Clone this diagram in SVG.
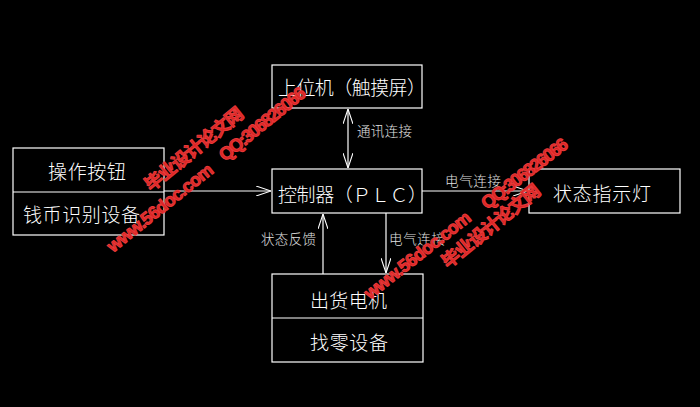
<svg xmlns="http://www.w3.org/2000/svg" width="700" height="407" viewBox="0 0 700 407">
<defs>
<style>
.box{fill:none;stroke:#ffffff;stroke-width:1.2}
.t{fill:#ffffff;font-family:"Noto Sans CJK SC","Noto Sans CJK JP",sans-serif;font-size:19px;font-weight:300}
.s{fill:#e0e0e0;font-family:"Noto Sans CJK SC","Noto Sans CJK JP",sans-serif;font-size:13.5px;font-weight:300}
.c{fill:none;stroke:#ffffff;stroke-width:1.2}
.wm{fill:#dd2424;stroke:#e63a3a;stroke-width:1;stroke-linejoin:round;font-family:"Liberation Sans","Noto Sans CJK SC",sans-serif;font-weight:bold;font-size:18px}
</style>
<marker id="arr" viewBox="0 0 15 10" refX="15" refY="5" markerWidth="15" markerHeight="10" markerUnits="userSpaceOnUse" orient="auto-start-reverse">
<path d="M0,0 L15,5 L0,10" fill="none" stroke="#ffffff" stroke-width="1.1"/>
</marker>
</defs>
<rect width="700" height="407" fill="#000000"/>
<g id="connectors">
<line class="c" x1="348" y1="109" x2="348" y2="168" marker-start="url(#arr)" marker-end="url(#arr)"/>
<line class="c" x1="164" y1="191" x2="271" y2="191" marker-end="url(#arr)"/>
<line class="c" x1="422" y1="191" x2="528" y2="191" marker-end="url(#arr)"/>
<line class="c" x1="386" y1="213" x2="386" y2="273" marker-end="url(#arr)"/>
<line class="c" x1="323" y1="274" x2="323" y2="214" marker-end="url(#arr)"/>
<text class="s" x="357" y="136" textLength="55">通讯连接</text>
<text class="s" x="445" y="186" textLength="56">电气连接</text>
<text class="s" x="389" y="244" textLength="56">电气连接</text>
<text class="s" x="261" y="244" textLength="55">状态反馈</text>
</g>
<g id="node-top">
<rect class="box" x="272" y="65" width="150" height="43"/>
<text class="t" x="278" y="95" textLength="148">上位机（触摸屏）</text>
</g>
<g id="node-input">
<rect class="box" x="13" y="148" width="151" height="87"/>
<line class="box" x1="13" y1="192" x2="164" y2="192"/>
<text class="t" x="48" y="179" textLength="78">操作按钮</text>
<text class="t" x="23" y="222" textLength="117">钱币识别设备</text>
</g>
<g id="node-plc">
<rect class="box" x="272" y="169" width="150" height="44"/>
<text class="t" x="278" y="202" textLength="149">控制器（ＰＬＣ）</text>
</g>
<g id="node-status">
<rect class="box" x="529" y="169" width="151" height="44"/>
<text class="t" x="553" y="201" textLength="98">状态指示灯</text>
</g>
<g id="node-output">
<rect class="box" x="272" y="274" width="151" height="88"/>
<line class="box" x1="272" y1="318" x2="423" y2="318"/>
<text class="t" x="310" y="308" textLength="77">出货电机</text>
<text class="t" x="310" y="350" textLength="78">找零设备</text>
</g>
<g id="watermark">
<text class="wm" transform="translate(151,192) rotate(-39)" textLength="121">毕业设计论文网</text>
<text class="wm" transform="translate(225,162) rotate(-39)" textLength="106" font-size="16">QQ:306826066</text>
<text class="wm" transform="translate(113,253) rotate(-38.5)" textLength="130">www.56doc.com</text>
<text class="wm" transform="translate(487,210) rotate(-37.5)" textLength="104" font-size="16">QQ:306826066</text>
<text class="wm" transform="translate(448,269) rotate(-39)" textLength="121">毕业设计论文网</text>
<text class="wm" transform="translate(370,300) rotate(-38)" textLength="130">www.56doc.com</text>
</g>
</svg>
